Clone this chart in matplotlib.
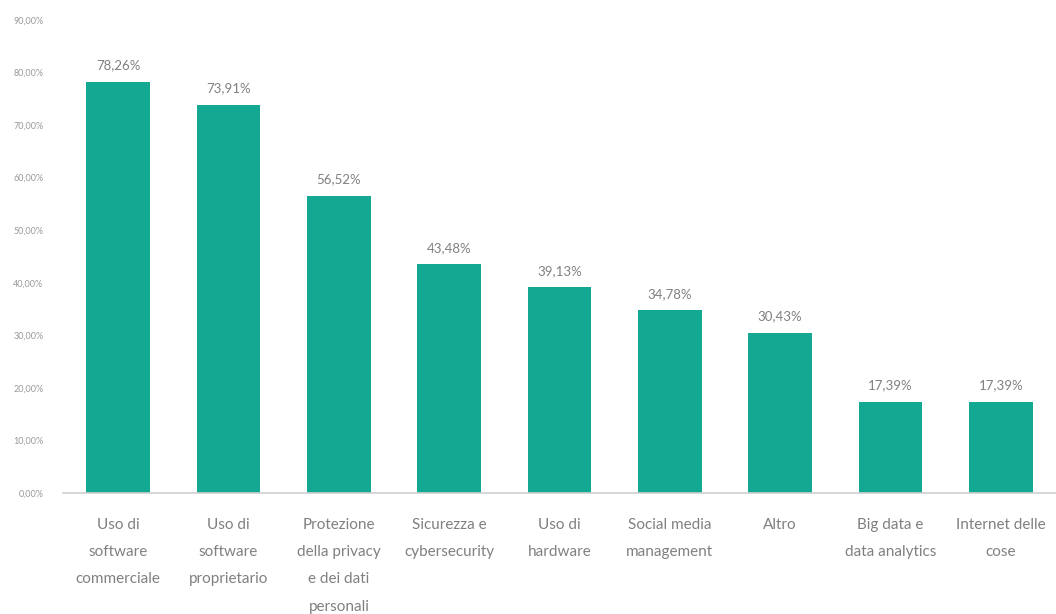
import matplotlib
matplotlib.use("Agg")
import matplotlib.pyplot as plt

# Ambiti di utilizzo (percentuali sul totale dei rispondenti)
categorie = [
    "Uso di\nsoftware\ncommerciale",
    "Uso di\nsoftware\nproprietario",
    "Protezione\ndella privacy\ne dei dati\npersonali",
    "Sicurezza e\ncybersecurity",
    "Uso di\nhardware",
    "Social media\nmanagement",
    "Altro",
    "Big data e\ndata analytics",
    "Internet delle\ncose",
]
valori = [78.26, 73.91, 56.52, 43.48, 39.13, 34.78, 30.43, 17.39, 17.39]
y_ticks = [0, 10, 20, 30, 40, 50, 60, 70, 80, 90]

VERDE = "#13a892"
GRIGIO = "#808080"

plt.rcParams["font.family"] = ["Lato", "DejaVu Sans"]

fig = plt.figure(figsize=(10.56, 6.14), dpi=100)
ax = fig.add_axes([63 / 1056, 1 - 493 / 614, 1 - 63 / 1056, (493 - 20) / 614])

x = range(len(categorie))
ax.bar(x, valori, width=0.58, color=VERDE, zorder=2)

for xi, v in zip(x, valori):
    ax.text(xi, v + 2.0, f"{v:.2f}%".replace(".", ","), ha="center", va="bottom",
            fontsize=9.5, color=GRIGIO)

ax.set_ylim(0, 90)
ax.set_xlim(-0.5, 8.5)
ax.set_yticks(y_ticks)
ax.set_yticklabels([f"{t:.2f}%".replace(".", ",") for t in y_ticks],
                   fontsize=6.5, color="#9a9a9a")
ax.set_xticks(list(x))
ax.set_xticklabels(categorie, fontsize=11, color=GRIGIO, linespacing=2.2)
ax.tick_params(axis="both", length=0)
ax.tick_params(axis="y", pad=14)
ax.tick_params(axis="x", pad=18)

for s in ("top", "right", "left"):
    ax.spines[s].set_visible(False)
ax.spines["bottom"].set_color("#d0d0d0")
ax.spines["bottom"].set_linewidth(1.2)

fig.savefig("out.png", dpi=100)
